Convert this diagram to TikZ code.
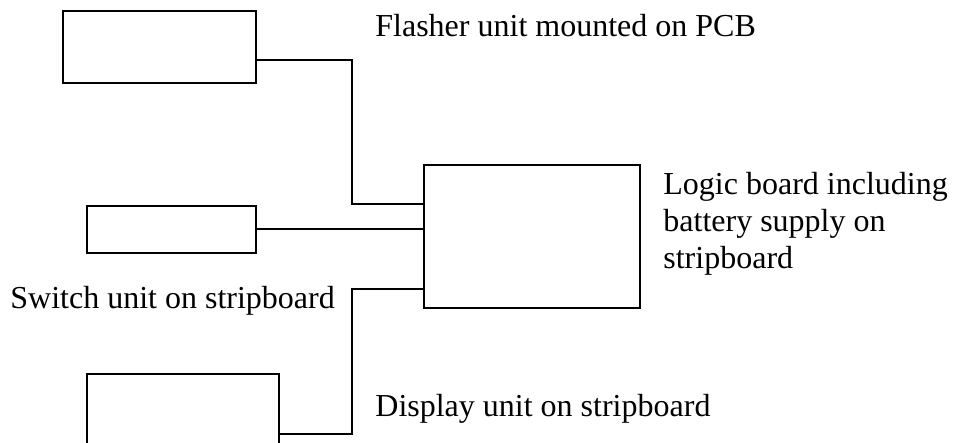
\documentclass[tikz,border=0pt]{standalone}
\usepackage{fontspec}
\setmainfont{Liberation Serif}
\usetikzlibrary{positioning, calc}
\tikzset{
  unitbox/.style={draw, line width=1pt, inner sep=0pt},
  wire/.style={line width=1pt},
  caption/.style={anchor=base west, inner sep=0pt, align=left,
    font=\fontsize{16}{18.5}\selectfont}
}

\begin{document}
\begin{tikzpicture}[x=0.5pt, y=-0.5pt]
    \useasboundingbox (0,0) rectangle (954,443);
    \clip (0,0) rectangle (954,443);
    % units
    \node[unitbox, minimum width=96.5pt, minimum height=36pt]   (flasher) at (159.5,47)  {};
    \node[unitbox, minimum width=84.5pt, minimum height=23.5pt] (switch)  at (171.5,229.5) {};
    \node[unitbox, minimum width=108pt,  minimum height=71.5pt] (logic)   at (532,236.5) {};
    \node[unitbox, minimum width=96pt,   minimum height=36pt]   (display) at (183,410)   {};
    % labels
    \node[caption] (flashertxt) at (375,37)  {Flasher unit mounted on PCB};
    \node[caption] (logictxt)   at (663,269) {Logic board including\\battery supply on\\stripboard};
    \node[caption] (switchtxt)  at (10,309)  {Switch unit on stripboard};
    \node[caption] (displaytxt) at (375,416) {Display unit on stripboard};
    % wiring
    \coordinate (bus)  at (352,0);
    \coordinate (pinA) at ([yshift=16.25pt]logic.west);
    \coordinate (pinC) at ([yshift=-26.25pt]logic.west);
    \coordinate (pinD) at ([yshift=-12pt]display.east);
    \draw[wire] ([yshift=-6.5pt]flasher.east) -| (bus |- pinA) -- (pinA);
    \draw[wire] (switch.east) -- (switch.east -| logic.west);
    \draw[wire] (pinC) -| (bus |- pinD) -- (pinD);
  \end{tikzpicture}
\end{document}
